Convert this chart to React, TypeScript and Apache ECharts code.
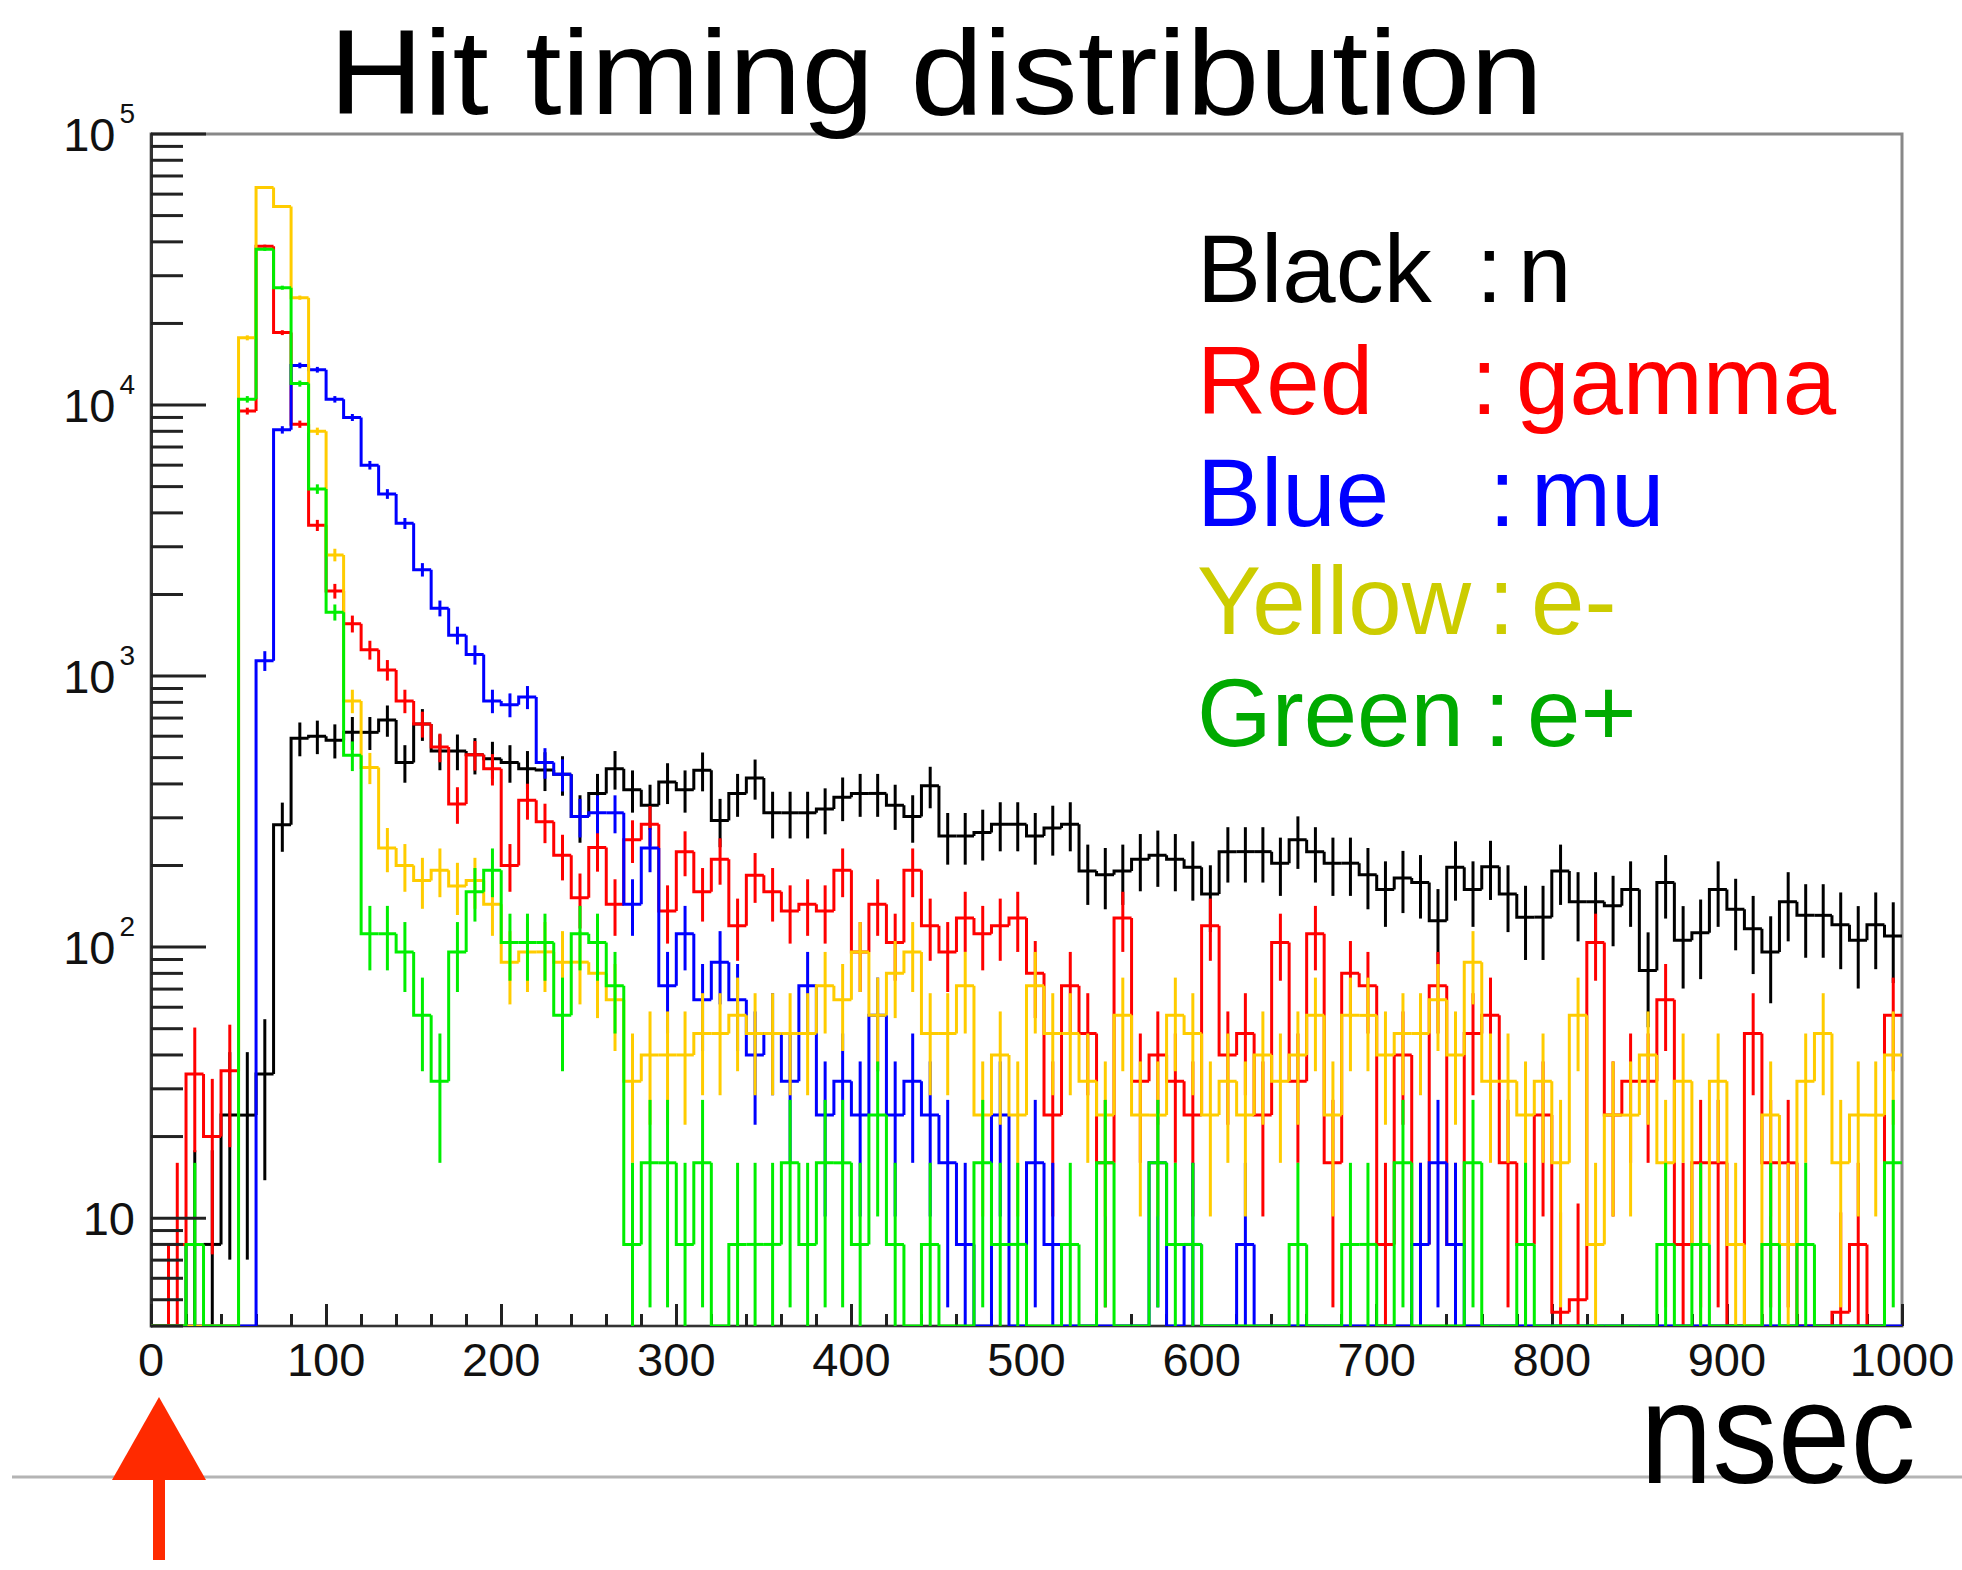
import { useEffect, useRef } from "react";
import * as echarts from "echarts";

const FONT = '"Liberation Sans", Arial, Helvetica, sans-serif';

// Axis ranges
const TIME_MIN = 0;
const TIME_MAX = 1000;
const TIME_STEP = 100;
const BIN_NS = 10;
const COUNT_MIN = 4;
const COUNT_MAX = 100000;

// Hit counts per 10 ns bin, 0–1000 ns
const hitsNeutron = [
  0, 0, 8, 8, 24, 24, 34, 283, 590, 600,
  580, 620, 620, 688, 480, 666, 529, 529, 512, 495,
  480, 455, 450, 434, 303, 369, 455, 381, 334, 407,
  381, 449, 293, 369, 421, 313, 313, 313, 323, 357,
  369, 369, 334, 303, 394, 257, 257, 265, 284, 284,
  257, 275, 284, 191, 185, 191, 211, 218, 211, 197,
  157, 225, 225, 225, 204, 249, 225, 204, 204, 185,
  163, 180, 173, 125, 197, 163, 198, 157, 129, 129,
  191, 147, 147, 142, 163, 82, 173, 106, 113, 163,
  138, 117, 96, 147, 131, 131, 121, 106, 121, 110,
];

const hitsGamma = [
  0, 8, 34, 20, 35, 9500, 38500, 18500, 8500, 3600,
  2060, 1560, 1250, 1054, 810, 666, 547, 337, 512, 455,
  200, 348, 290, 218, 152, 233, 144, 249, 284, 136,
  225, 160, 211, 120, 184, 160, 136, 144, 136, 192,
  96, 144, 104, 192, 120, 96, 128, 112, 120, 128,
  80, 24, 72, 48, 16, 128, 32, 40, 32, 24,
  120, 40, 48, 24, 104, 32, 112, 16, 80, 72,
  8, 40, 8, 72, 8, 48, 56, 16, 8, 24,
  4.5, 5, 104, 24, 32, 32, 64, 8, 16, 16,
  0, 48, 16, 16, 0, 0, 4.5, 8, 0, 56,
];

const hitsMuon = [
  0, 0, 0, 0, 0, 0, 1140, 8100, 14000, 13500,
  10500, 9000, 6000, 4700, 3660, 2470, 1780, 1415, 1200, 810,
  784, 837, 480, 434, 303, 313, 313, 144, 232, 72,
  112, 64, 88, 64, 40, 48, 32, 72, 24, 32,
  24, 56, 24, 32, 24, 16, 8, 0, 24, 0,
  16, 8, 0, 0, 0, 0, 0, 16, 0, 8,
  0, 0, 8, 0, 0, 0, 0, 0, 0, 0,
  0, 0, 8, 16, 8, 0, 0, 0, 0, 0,
  0, 0, 0, 0, 0, 0, 0, 0, 0, 0,
  0, 0, 0, 0, 0, 0, 0, 0, 0, 0,
];

const hitsElectron = [
  0, 0, 0, 0, 0, 17700, 63500, 54000, 24900, 8000,
  2800, 810, 460, 232, 200, 176, 192, 168, 176, 144,
  88, 96, 96, 88, 88, 80, 64, 32, 40, 40,
  40, 48, 48, 56, 48, 48, 48, 48, 72, 64,
  96, 56, 80, 96, 48, 48, 72, 24, 40, 24,
  72, 48, 48, 32, 24, 56, 24, 24, 56, 48,
  24, 32, 24, 40, 32, 40, 56, 24, 56, 56,
  40, 48, 48, 64, 40, 88, 32, 32, 24, 32,
  16, 56, 8, 24, 24, 40, 16, 32, 8, 32,
  8, 0, 24, 8, 32, 48, 16, 24, 24, 40,
];

const hitsPositron = [
  0, 0, 8, 0, 0, 10500, 37600, 27100, 12000, 4900,
  1720, 510, 112, 112, 96, 56, 32, 96, 160, 192,
  104, 104, 104, 56, 112, 104, 72, 8, 16, 16,
  8, 16, 0, 8, 8, 8, 16, 8, 16, 16,
  8, 24, 8, 0, 8, 0, 0, 16, 8, 8,
  0, 0, 8, 0, 16, 0, 0, 16, 8, 8,
  0, 0, 0, 0, 0, 8, 0, 0, 8, 8,
  0, 16, 0, 0, 0, 16, 0, 0, 8, 0,
  0, 0, 0, 0, 0, 0, 8, 0, 8, 0,
  0, 0, 8, 0, 8, 0, 0, 0, 0, 16,
];

// Per-entry event weights; bin error = sqrt(weight * content)
const weightNeutron = 12;
const weightOthers = 8;

// Histograms in drawing order
const histograms = [
  { name: "n", values: hitsNeutron, weight: weightNeutron, color: "#000000" },
  { name: "gamma", values: hitsGamma, weight: weightOthers, color: "#ff0000" },
  { name: "mu", values: hitsMuon, weight: weightOthers, color: "#0000ff" },
  { name: "e-", values: hitsElectron, weight: weightOthers, color: "#ffcc00" },
  { name: "e+", values: hitsPositron, weight: weightOthers, color: "#00ee00" },
];

// Colour key texts
const keyLabels = ["Black", "Red", "Blue", "Yellow", "Green"];
const keyNames = ["n", "gamma", "mu", "e-", "e+"];
const keyColors = ["#000000", "#ff0000", "#0000ff", "#cccc00", "#00aa00"];

// Key layout (pixels)
const keyRowY = [268, 380, 492, 600, 712];
const keyColonX = [1476, 1471, 1489, 1488, 1484];
const keyNameX = [1518, 1516, 1531, 1531, 1527];

// Log-axis tick marks: 1..9 per decade
const decadeStarts = [1, 10, 100, 1000, 10000];
const yTickValues: number[][] = [];
decadeStarts.forEach((d) => {
  for (let k = 1; k <= 9; k++) {
    const v = k * d;
    if (v >= COUNT_MIN && v <= COUNT_MAX) yTickValues.push([TIME_MIN, v, k === 1 ? 1 : 0]);
  }
});
yTickValues.push([TIME_MIN, COUNT_MAX, 1]);

const LINE_W = 3;

const show = (v: number) => Math.max(v, COUNT_MIN);

function histData(values: number[]) {
  return values.map((v, i) => {
    const prev = i === 0 ? 0 : values[i - 1];
    return [i * BIN_NS, (i + 1) * BIN_NS, show(v), show(prev), v];
  });
}

function histRenderer(color: string, weight: number) {
  return (_params: any, api: any) => {
    const x0 = api.value(0);
    const x1 = api.value(1);
    const v = api.value(2);
    const prev = api.value(3);
    const raw = api.value(4);
    const pPrev = api.coord([x0, prev]);
    const pA = api.coord([x0, v]);
    const pB = api.coord([x1, v]);
    const lineStyle = { stroke: color, lineWidth: LINE_W, fill: "none", lineJoin: "miter", lineCap: "butt" };
    const children: any[] = [
      { type: "polyline", shape: { points: [pPrev, pA, pB] }, style: lineStyle },
    ];
    if (raw > 0) {
      const err = Math.sqrt(weight * raw);
      const xc = (x0 + x1) / 2;
      const lo = api.coord([xc, Math.max(raw - err, COUNT_MIN)]);
      const hi = api.coord([xc, raw + err]);
      children.push({
        type: "line",
        shape: { x1: lo[0], y1: lo[1], x2: hi[0], y2: hi[1] },
        style: { stroke: color, lineWidth: LINE_W },
      });
    }
    return { type: "group", children };
  };
}

function tickRenderer(_params: any, api: any) {
  const p = api.coord([api.value(0), api.value(1)]);
  const len = api.value(2) === 1 ? 55 : 32;
  return {
    type: "line",
    shape: { x1: p[0], y1: p[1], x2: p[0] + len, y2: p[1] },
    style: { stroke: "#222222", lineWidth: LINE_W },
  };
}

export default function App() {
  const ref = useRef<HTMLDivElement>(null);

  useEffect(() => {
    if (!ref.current) return;
    const chart = echarts.init(ref.current, undefined, { renderer: "svg" });

    const keyGraphics: any[] = [];
    keyLabels.forEach((label, i) => {
      const base = { fontSize: 96, fontFamily: FONT, fill: keyColors[i], verticalAlign: "middle", align: "left" };
      keyGraphics.push({ type: "text", x: 1197, y: keyRowY[i], style: { ...base, text: label } });
      keyGraphics.push({ type: "text", x: keyColonX[i], y: keyRowY[i], style: { ...base, text: ":" } });
      keyGraphics.push({ type: "text", x: keyNameX[i], y: keyRowY[i], style: { ...base, text: keyNames[i] } });
    });

    const option: any = {
      animation: false,
      backgroundColor: "#ffffff",
      grid: {
        left: 151,
        top: 134,
        width: 1751,
        height: 1192,
        show: true,
        borderColor: "#888888",
        borderWidth: 3,
        backgroundColor: "transparent",
      },
      xAxis: {
        type: "value",
        min: TIME_MIN,
        max: TIME_MAX,
        interval: TIME_STEP,
        axisLine: { show: true, onZero: false, lineStyle: { color: "#333333", width: 2 } },
        axisTick: { show: true, inside: true, length: 22, lineStyle: { color: "#222222", width: LINE_W } },
        minorTick: { show: true, splitNumber: 5, length: 12, lineStyle: { color: "#222222", width: LINE_W } },
        splitLine: { show: false },
        axisLabel: {
          fontSize: 47,
          fontFamily: FONT,
          color: "#111111",
          margin: 10,
          formatter: (v: number) => String(v),
        },
      },
      yAxis: {
        type: "log",
        logBase: 10,
        min: COUNT_MIN,
        max: COUNT_MAX,
        axisLine: { show: true, lineStyle: { color: "#333333", width: 3 } },
        axisTick: { show: false },
        splitLine: { show: false },
        axisLabel: {
          margin: 16,
          showMinLabel: false,
          formatter: (val: number) => {
            const lg = Math.log10(val);
            const e = Math.round(lg);
            if (Math.abs(lg - e) > 1e-6) return "";
            return e === 1 ? "{b|10}" : `{b|10}{s|${e}}`;
          },
          rich: {
            b: { fontSize: 47, fontFamily: FONT, color: "#111111", lineHeight: 70 },
            s: { fontSize: 28, fontFamily: FONT, color: "#111111", lineHeight: 28, verticalAlign: "top", padding: [0, 0, 0, 4] },
          },
        },
      },
      series: [
        ...histograms.map((h) => ({
          type: "custom",
          name: h.name,
          coordinateSystem: "cartesian2d",
          clip: true,
          silent: true,
          encode: { x: [0, 1], y: 2 },
          data: histData(h.values),
          renderItem: histRenderer(h.color, h.weight),
        })),
        {
          type: "custom",
          name: "yticks",
          coordinateSystem: "cartesian2d",
          silent: true,
          z: 5,
          encode: { x: 0, y: 1 },
          data: yTickValues,
          renderItem: tickRenderer,
        },
      ],
      graphic: [
        {
          type: "text",
          x: 936,
          y: 72,
          scaleX: 1.09,
          style: {
            text: "Hit timing distribution",
            fontSize: 120,
            fontFamily: FONT,
            fill: "#000000",
            align: "center",
            verticalAlign: "middle",
          },
        },
        ...keyGraphics,
        {
          type: "line",
          shape: { x1: 12, y1: 1477, x2: 1962, y2: 1477 },
          style: { stroke: "#b4b4b4", lineWidth: 3 },
        },
        {
          type: "text",
          x: 1640,
          y: 1433,
          scaleX: 0.9,
          style: {
            text: "nsec",
            fontSize: 145,
            fontFamily: FONT,
            fill: "#000000",
            align: "left",
            verticalAlign: "middle",
          },
        },
        {
          type: "polygon",
          shape: { points: [[159, 1397], [112, 1480], [206, 1480]] },
          style: { fill: "#ff2a00" },
        },
        {
          type: "rect",
          shape: { x: 153, y: 1470, width: 12, height: 90 },
          style: { fill: "#ff2a00" },
        },
      ],
    };

    chart.setOption(option);
    return () => chart.dispose();
  }, []);

  return (
    <div
      ref={ref}
      style={{ position: "absolute", left: 0, top: 0, width: 1962, height: 1570, background: "#ffffff" }}
    />
  );
}
